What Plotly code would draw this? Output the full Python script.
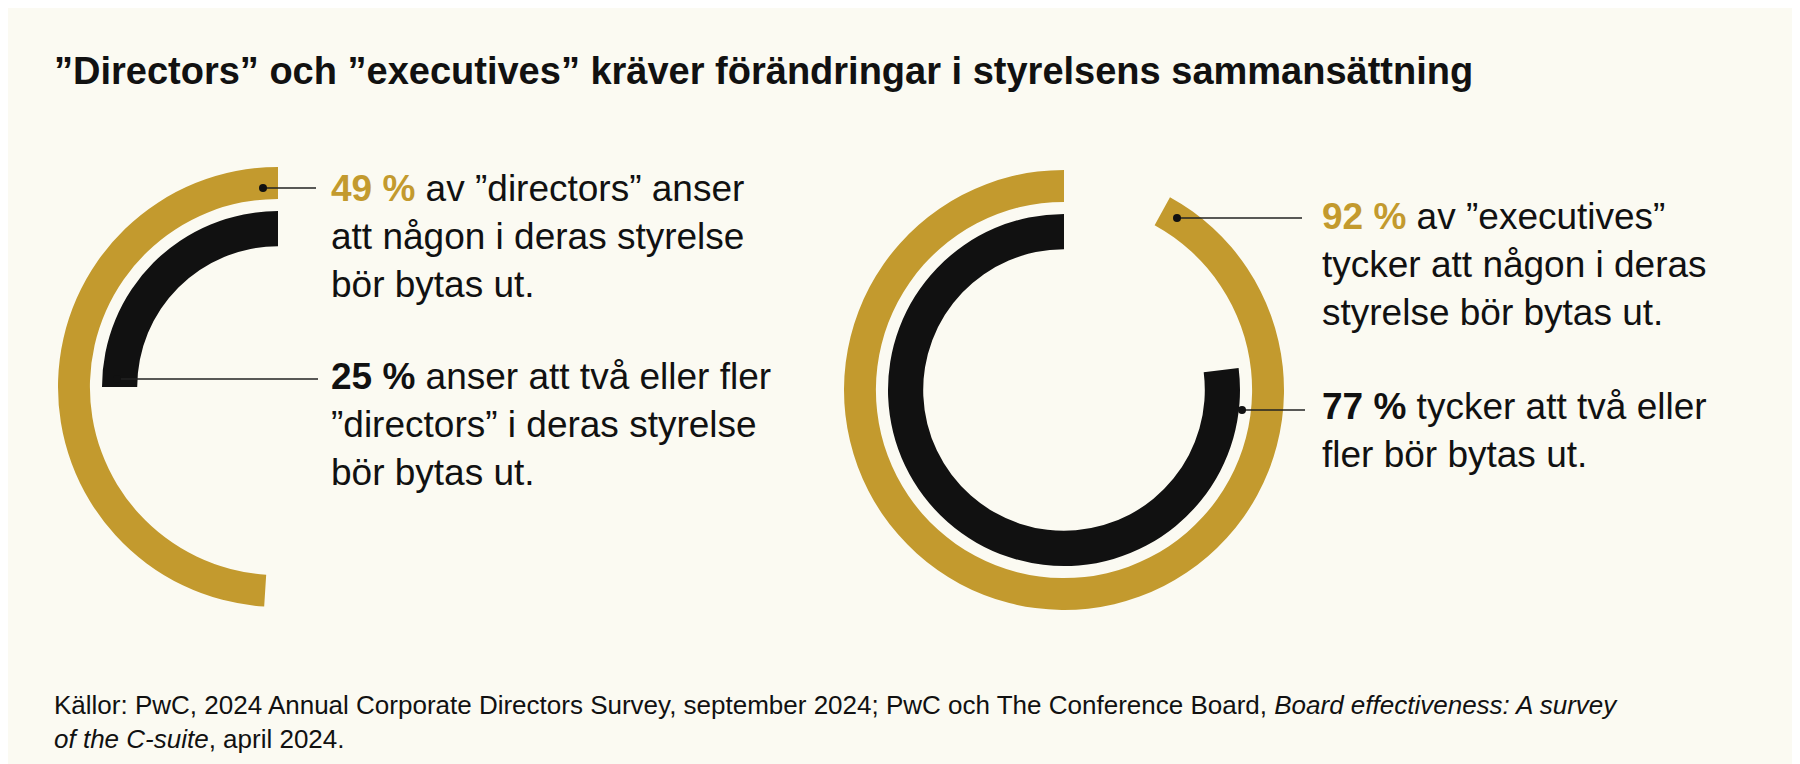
import plotly.graph_objects as go

W, H = 1800, 764
GOLD = "#C39A2E"
BLACK = "#111111"
BG = "#FBFAF2"

TITLE = "”Directors” och ”executives” kräver förändringar i styrelsens sammansättning"
OUTER_VALUES = [49, 92]   # % some director should be replaced
INNER_VALUES = [25, 77]   # % two or more should be replaced
CENTERS = [(270, 379), (1056, 382)]
LABELS_OUTER = [
    "<b><span style='color:%s'>49 %%</span></b> av ”directors” anser<br>att någon i deras styrelse<br>bör bytas ut.",
    "<b><span style='color:%s'>92 %%</span></b> av ”executives”<br>tycker att någon i deras<br>styrelse bör bytas ut.",
]
LABELS_INNER = [
    "<b>25 %</b> anser att två eller fler<br>”directors” i deras styrelse<br>bör bytas ut.",
    "<b>77 %</b> tycker att två eller<br>fler bör bytas ut.",
]
SOURCE = ("Källor: PwC, 2024 Annual Corporate Directors Survey, september 2024; PwC och The Conference Board, "
          "<i>Board effectiveness: A survey</i><br><i>of the C-suite</i>, april 2024.")


def px(x, y):
    return x / W, 1 - y / H


def domain(cx, cy, r):
    return dict(x=[(cx - r) / W, (cx + r) / W], y=[1 - (cy + r) / H, 1 - (cy - r) / H])


fig = go.Figure()
for i, (cx, cy) in enumerate(CENTERS):
    for val, r, hole, col in [(OUTER_VALUES[i], 220, 0.855, GOLD), (INNER_VALUES[i], 176, 0.80, BLACK)]:
        # empty part first, so the coloured arc ends at 12 o'clock (runs counterclockwise from top)
        fig.add_trace(go.Pie(
            values=[100 - val, val], hole=hole, sort=False, direction="counterclockwise",
            rotation=0, domain=domain(cx, cy, r), textinfo="none", hoverinfo="skip",
            marker=dict(colors=["rgba(0,0,0,0)", col], line=dict(width=0)), showlegend=False,
        ))

# leader lines (pixels)
LEADERS = [((255, 180), (308, 180)), ((109, 371), (310, 371)),
           ((1169, 210), (1294, 210)), ((1234, 402), (1297, 402))]
for (x0, y0), (x1, y1) in LEADERS:
    a, b = px(x0, y0)
    c, d = px(x1, y1)
    fig.add_shape(type="line", xref="paper", yref="paper", x0=a, y0=b, x1=c, y1=d,
                  line=dict(color="#222", width=1.5))
    fig.add_shape(type="circle", xref="paper", yref="paper", x0=a - 4 / W, x1=a + 4 / W,
                  y0=b - 4 / H, y1=b + 4 / H, fillcolor="#111", line=dict(width=0))

FONT = "Liberation Sans, Arial, sans-serif"
TEXTS = [(321, 158, LABELS_OUTER[0] % GOLD), (321, 346, LABELS_INNER[0]),
         (1312, 186, LABELS_OUTER[1] % GOLD), (1312, 376, LABELS_INNER[1])]
for x, y, t in TEXTS:
    a, b = px(x, y)
    fig.add_annotation(x=a, y=b, xref="paper", yref="paper", text=t, showarrow=False,
                       xanchor="left", yanchor="top", align="left",
                       font=dict(size=37, color="#111", family=FONT))

a, b = px(44, 63)
fig.add_annotation(x=a, y=b, xref="paper", yref="paper", text="<b>" + TITLE + "</b>", showarrow=False,
                   xanchor="left", yanchor="middle", font=dict(size=38, color="#111", family=FONT))
a, b = px(44, 680)
fig.add_annotation(x=a, y=b, xref="paper", yref="paper", text=SOURCE, showarrow=False,
                   xanchor="left", yanchor="top", align="left",
                   font=dict(size=26, color="#111", family=FONT))

fig.update_layout(width=W, height=H, margin=dict(l=0, r=0, t=0, b=0),
                  paper_bgcolor=BG, plot_bgcolor=BG)
fig.write_html("out.html")
